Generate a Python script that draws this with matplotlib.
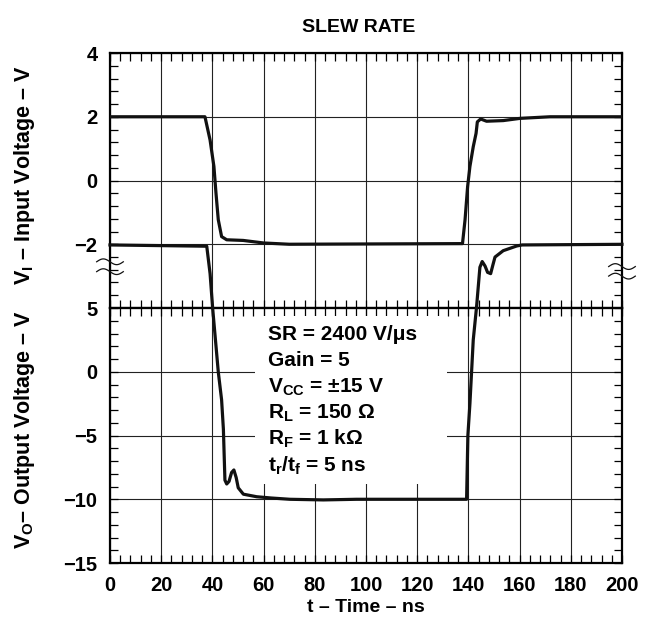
import matplotlib
matplotlib.use('Agg')
import matplotlib.pyplot as plt
import numpy as np
from matplotlib.patches import Rectangle
from matplotlib.ticker import MultipleLocator

plt.rcParams['font.family'] = 'Liberation Sans'
plt.rcParams['font.weight'] = 'bold'
plt.rcParams['mathtext.fontset'] = 'custom'
plt.rcParams['mathtext.rm'] = 'Liberation Sans:bold'
plt.rcParams['mathtext.bf'] = 'Liberation Sans:bold'
plt.rcParams['mathtext.it'] = 'Liberation Sans:bold'
plt.rcParams['mathtext.default'] = 'bf'

# input waveform (V)
t_in = [0, 37.1, 39.1, 40.6, 41.4, 42.3, 43.6, 45.6, 52, 60, 70,
        137.7, 138.7, 139.7, 140.6, 141.9, 143.0, 143.5, 144.8, 147.1,
        153.6, 160.2, 171.9, 200]
v_in = [2.0, 2.0, 1.27, 0.44, -0.39, -1.23, -1.76, -1.86, -1.88, -1.96, -2.0,
        -1.98, -1.23, -0.19, 0.44, 1.06, 1.48, 1.84, 1.93, 1.86,
        1.88, 1.95, 2.0, 2.0]

# output waveform (V); the +10 V level sits above the scale break
t_out = [0, 37.8, 39.1, 40.1, 42.3, 43.6, 44.3, 44.9, 45.6, 46.5, 47.5, 48.4,
         49.3, 50.1, 52.1, 57.3, 63, 70.3, 83.3, 96.3, 110, 139.3, 139.8,
         140.6, 141.9, 143.2, 144.5, 145.4, 146.5, 147.5, 148.7, 149.6,
         150.4, 153.6, 158.9, 161, 200]
v_out = [9.95, 9.85, 7.7, 5.0, 0.0, -2.2, -4.5, -8.5, -8.8, -8.6, -7.9, -7.7,
         -8.3, -9.1, -9.6, -9.8, -9.9, -10.0, -10.05, -10.0, -10.0, -10.0, -5.0,
         -2.5, 2.5, 5.1, 8.2, 8.65, 8.3, 7.8, 7.7, 8.4,
         9.0, 9.5, 9.87, 9.95, 10.0]

x_ticks = list(range(0, 201, 20))
in_ticks = [-2, 0, 2, 4]
out_ticks = [-15, -10, -5, 0, 5]

conditions = ['SR = 2400 V/μs', 'Gain = 5', r'$\mathbf{V_{CC}}$ = ±15 V',
              r'$\mathbf{R_{L}}$ = 150 Ω', r'$\mathbf{R_{F}}$ = 1 kΩ',
              r'$\mathbf{t_{r}/t_{f}}$ = 5 ns']

fig = plt.figure(figsize=(6.57, 6.26), dpi=100)
ax_in = fig.add_axes([0.1674, 0.508, 0.7793, 0.4073])
ax_out = fig.add_axes([0.1674, 0.1006, 0.7793, 0.4073])

for ax in (ax_in, ax_out):
    ax.set_xlim(0, 200)
    ax.set_xticks(x_ticks)
    ax.xaxis.set_minor_locator(MultipleLocator(4))
    ax.grid(True, which='major', color='#222222', linewidth=0.8)
    ax.tick_params(which='both', direction='in', top=True, right=True,
                   length=6, width=0.9, labelsize=14.5, pad=9)
    for s in ax.spines.values():
        s.set_linewidth(1.6)

ax_in.set_ylim(-4, 4)
ax_in.set_yticks(in_ticks)
ax_in.yaxis.set_minor_locator(MultipleLocator(0.4))
ax_in.tick_params(labelbottom=False)

ax_out.set_ylim(-15, 5)
ax_out.set_yticks(out_ticks)
ax_out.yaxis.set_minor_locator(MultipleLocator(1))

ax_in.plot(t_in, v_in, color='#111111', linewidth=2.3, zorder=3)
ax_out.plot(t_out, v_out, color='#111111', linewidth=2.3, zorder=3,
            clip_on=False)

# white panel behind the test conditions
ax_out.add_patch(Rectangle((56.6, -8.8), 75, 13.2, facecolor='white',
                           edgecolor='none', zorder=1.8))
for i, line in enumerate(conditions):
    ax_out.text(61.8, 2.5 - 2.06 * i, line, fontsize=15, fontweight='bold',
                va='baseline', ha='left', zorder=4)

# scale-break squiggles
s = np.linspace(-1, 1, 40)
tr = ax_in.get_yaxis_transform()
for xc, ys in ((0.0, (-2.55, -2.86)), (1.0, (-2.7, -3.0))):
    for y0 in ys:
        ax_in.plot(xc + 0.026 * s, y0 - 0.09 * np.sin(np.pi * s), color='#111111',
                   linewidth=0.9, transform=tr, clip_on=False, zorder=5)

fig.text(0.5465, 1 - 28 / 626, 'SLEW RATE', fontsize=14, fontweight='bold',
         ha='center', va='center')
fig.text(25 / 657, 1 - 175 / 626, r'$\mathbf{V_{I}}$ – Input Voltage – V',
         rotation=90, fontsize=15.5, fontweight='bold', ha='center', va='center')
fig.text(25 / 657, 1 - 430 / 626, r'$\mathbf{V_{O}}$– Output Voltage – V',
         rotation=90, fontsize=15.5, fontweight='bold', ha='center', va='center')
ax_out.set_xlabel('t – Time – ns', fontsize=14, fontweight='bold', labelpad=3)

fig.savefig('out.png', dpi=100)
